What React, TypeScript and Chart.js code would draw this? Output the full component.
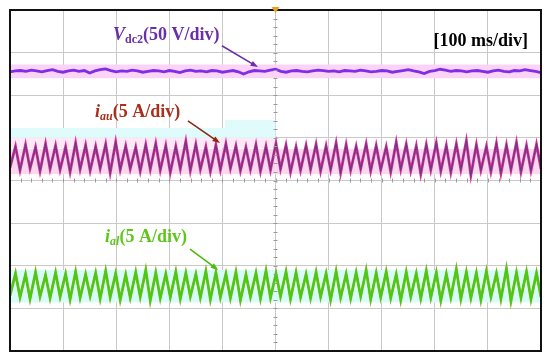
import { useEffect, useRef } from "react";
import { Chart, registerables } from "chart.js";

Chart.register(...registerables);

// Screen is 10 x 8 divisions; values are in division units (0 = bottom edge)
const X_DIVS = 10;
const Y_DIVS = 8;
const CYCLES = 53;

// Vdc2 trace, sampled every 0.1 div
const vdc2 = [
  6.55, 6.57, 6.58, 6.56, 6.59, 6.57, 6.55, 6.58, 6.6, 6.56,
  6.54, 6.57, 6.59, 6.56, 6.58, 6.52, 6.57, 6.6, 6.62, 6.58,
  6.55, 6.57, 6.56, 6.59, 6.57, 6.54, 6.56, 6.58, 6.57, 6.55,
  6.58, 6.56, 6.53, 6.57, 6.59, 6.56, 6.57, 6.55, 6.58, 6.57,
  6.54, 6.56, 6.58, 6.55, 6.5, 6.55, 6.58, 6.57, 6.56, 6.59,
  6.61, 6.56, 6.54, 6.57, 6.58, 6.56, 6.55, 6.57, 6.59, 6.58,
  6.56, 6.57, 6.55, 6.58, 6.57, 6.56, 6.59, 6.57, 6.55, 6.56,
  6.58, 6.57, 6.54, 6.56, 6.58, 6.6, 6.57, 6.55, 6.51, 6.56,
  6.58, 6.61, 6.59, 6.56, 6.58, 6.57, 6.55, 6.57, 6.58, 6.56,
  6.54, 6.57, 6.59, 6.56, 6.55, 6.58, 6.57, 6.6, 6.58, 6.56,
  6.53,
];

const iauPeaks = [
  4.8, 4.84, 4.78, 4.86, 4.82, 4.79, 4.88, 4.83, 4.8, 4.85,
  4.9, 4.81, 4.78, 4.84, 4.87, 4.82, 4.8, 4.92, 4.85, 4.79,
  4.83, 4.86, 4.81, 4.78, 4.84, 4.8, 4.87, 4.83, 4.79, 4.82,
  4.85, 4.81, 4.88, 4.84, 4.8, 4.86, 4.82, 4.79, 4.9, 4.85,
  4.81, 4.84, 4.88, 4.82, 4.86, 4.93, 4.84, 4.8, 4.87, 4.83,
  4.89, 4.82, 4.85,
];
const iauValleys = [
  4.3, 4.24, 4.28, 4.22, 4.27, 4.25, 4.2, 4.26, 4.23, 4.28,
  4.18, 4.25, 4.27, 4.22, 4.26, 4.24, 4.19, 4.27, 4.23, 4.26,
  4.21, 4.25, 4.28, 4.23, 4.26, 4.22, 4.25, 4.27, 4.2, 4.24,
  4.26, 4.22, 4.25, 4.18, 4.24, 4.27, 4.22, 4.25, 4.2, 4.26,
  4.23, 4.15, 4.25, 4.22, 4.19, 4.26, 4.12, 4.24, 4.21, 4.17,
  4.25, 4.2, 4.23, 4.27,
];

const ialPeaks = [
  1.82, 1.8, 1.85, 1.78, 1.84, 1.81, 1.86, 1.8, 1.83, 1.88,
  1.82, 1.79, 1.85, 1.9, 1.84, 1.81, 1.86, 1.83, 1.8, 1.87,
  1.84, 1.81, 1.85, 1.79, 1.83, 1.88, 1.82, 1.86, 1.84, 1.8,
  1.85, 1.82, 1.87, 1.81, 1.84, 1.9, 1.83, 1.86, 1.8, 1.85,
  1.82, 1.88, 1.84, 1.81, 1.92, 1.85, 1.83, 1.87, 1.82, 1.93,
  1.84, 1.86, 1.83,
];
const ialValleys = [
  1.3, 1.26, 1.22, 1.28, 1.24, 1.27, 1.21, 1.25, 1.29, 1.23,
  1.26, 1.2, 1.25, 1.27, 1.18, 1.24, 1.26, 1.22, 1.28, 1.25,
  1.21, 1.26, 1.24, 1.19, 1.27, 1.23, 1.25, 1.28, 1.22, 1.26,
  1.24, 1.27, 1.2, 1.25, 1.23, 1.28, 1.21, 1.26, 1.24, 1.19,
  1.27, 1.23, 1.25, 1.18, 1.26, 1.22, 1.24, 1.2, 1.27, 1.22,
  1.17, 1.25, 1.21, 1.26,
];

const TIME_LABEL = "[100 ms/div]";

function waveform(peaks: number[], valleys: number[]) {
  const period = X_DIVS / CYCLES;
  const pts: { x: number; y: number }[] = [];
  for (let k = 0; k < valleys.length; k++) {
    pts.push({ x: k * period, y: valleys[k] });
    if (k < peaks.length) pts.push({ x: k * period + 0.55 * period, y: peaks[k] });
  }
  return pts;
}

type Seg = { t: string; style?: string; size?: number; dy?: number };

function drawRich(ctx: CanvasRenderingContext2D, segs: Seg[], x: number, y: number, color: string) {
  ctx.save();
  ctx.fillStyle = color;
  ctx.textBaseline = "alphabetic";
  let cx = x;
  for (const s of segs) {
    ctx.font = `${s.style ?? ""} bold ${s.size ?? 18}px "Liberation Serif", "Times New Roman", serif`;
    ctx.fillText(s.t, cx, y + (s.dy ?? 0));
    cx += ctx.measureText(s.t).width;
  }
  ctx.restore();
}

function arrow(ctx: CanvasRenderingContext2D, x1: number, y1: number, x2: number, y2: number, color: string) {
  ctx.save();
  ctx.strokeStyle = color;
  ctx.fillStyle = color;
  ctx.lineWidth = 1.6;
  const a = Math.atan2(y2 - y1, x2 - x1);
  const hl = 8;
  ctx.beginPath();
  ctx.moveTo(x1, y1);
  ctx.lineTo(x2 - Math.cos(a) * hl * 0.8, y2 - Math.sin(a) * hl * 0.8);
  ctx.stroke();
  ctx.beginPath();
  ctx.moveTo(x2, y2);
  ctx.lineTo(x2 - hl * Math.cos(a - 0.35), y2 - hl * Math.sin(a - 0.35));
  ctx.lineTo(x2 - hl * Math.cos(a + 0.35), y2 - hl * Math.sin(a + 0.35));
  ctx.closePath();
  ctx.fill();
  ctx.restore();
}

const bandsPlugin = {
  id: "bands",
  beforeDatasetsDraw(chart: any) {
    const { ctx, scales } = chart;
    const xs = scales.x, ys = scales.y;
    const rect = (x0: number, x1: number, y0: number, y1: number, c: string) => {
      const px0 = xs.getPixelForValue(x0), px1 = xs.getPixelForValue(x1);
      const py0 = ys.getPixelForValue(y1), py1 = ys.getPixelForValue(y0);
      ctx.fillStyle = c;
      ctx.fillRect(px0, py0, px1 - px0, py1 - py0);
    };
    ctx.save();
    rect(0, 10, 6.4, 6.72, "#fbd3f7");
    rect(0, 10, 4.15, 4.74, "#fcd8ef");
    rect(0, 5, 4.76, 5.0, "#fde9f6");
    rect(0, 5, 5.0, 5.23, "#e0fbfb");
    rect(4.05, 5, 5.23, 5.42, "#e0fbfb");
    rect(0, 10, 1.14, 1.9, "#d6fdf8");
    ctx.restore();
  },
};

const decorPlugin = {
  id: "decor",
  afterDatasetsDraw(chart: any) {
    const { ctx, scales, chartArea } = chart;
    const xs = scales.x, ys = scales.y;
    const X = (v: number) => xs.getPixelForValue(v);
    const Y = (v: number) => ys.getPixelForValue(v);
    ctx.save();
    // centre axis minor ticks
    ctx.strokeStyle = "#9a9a9a";
    ctx.lineWidth = 1;
    ctx.beginPath();
    for (let i = 0; i <= X_DIVS * 5; i++) {
      const px = Math.round(X(i / 5)) + 0.5;
      ctx.moveTo(px, Y(4) - 2);
      ctx.lineTo(px, Y(4) + 2);
    }
    for (let i = 0; i <= Y_DIVS * 5; i++) {
      const py = Math.round(Y(i / 5)) + 0.5;
      ctx.moveTo(X(5) - 2, py);
      ctx.lineTo(X(5) + 2, py);
    }
    ctx.stroke();
    // frame
    ctx.strokeStyle = "#111";
    ctx.lineWidth = 2;
    ctx.strokeRect(chartArea.left, chartArea.top, chartArea.right - chartArea.left, chartArea.bottom - chartArea.top);
    // trigger marker
    ctx.fillStyle = "#e8a020";
    ctx.beginPath();
    ctx.moveTo(X(5) - 4, chartArea.top - 3);
    ctx.lineTo(X(5) + 4, chartArea.top - 3);
    ctx.lineTo(X(5), chartArea.top + 3);
    ctx.closePath();
    ctx.fill();
    ctx.restore();

    // labels
    drawRich(ctx, [
      { t: "V", style: "italic" },
      { t: "dc2", size: 12, dy: 3 },
      { t: "(50 V/div)" },
    ], X(1.94), Y(7.3), "#6a2fa6");
    arrow(ctx, X(3.99), Y(7.16), X(4.67), Y(6.66), "#6a2fa6");

    ctx.save();
    ctx.font = 'bold 18px "Liberation Serif", "Times New Roman", serif';
    ctx.fillStyle = "#000";
    ctx.textAlign = "right";
    ctx.fillText(TIME_LABEL, X(9.755), Y(7.16));
    ctx.restore();

    drawRich(ctx, [
      { t: "i", style: "italic" },
      { t: "au", style: "italic", size: 12, dy: 3 },
      { t: "(5 A/div)" },
    ], X(1.6), Y(5.49), "#a8301c");
    arrow(ctx, X(3.35), Y(5.4), X(3.955), Y(4.88), "#8b2a10");

    drawRich(ctx, [
      { t: "i", style: "italic" },
      { t: "al", style: "italic", size: 12, dy: 3 },
      { t: "(5 A/div)" },
    ], X(1.79), Y(2.56), "#5fc71c");
    arrow(ctx, X(3.39), Y(2.39), X(3.92), Y(1.9), "#4cba10");
  },
};

export default function App() {
  const ref = useRef<HTMLCanvasElement>(null);
  useEffect(() => {
    document.body.style.margin = "0";
    const canvas = ref.current!;
    const vdcPts = vdc2.map((v, i) => ({ x: i * 0.1, y: v }));
    const iauPts = waveform(iauPeaks, iauValleys);
    const ialPts = waveform(ialPeaks, ialValleys);
    const base = { pointRadius: 0, tension: 0, fill: false };
    // Chart.js paints the first dataset on top
    const chart = new Chart(canvas, {
      type: "line",
      data: {
        datasets: [
          { ...base, data: vdcPts, borderColor: "#7d2ee6", borderWidth: 2.8 },
          { ...base, data: iauPts, borderColor: "#6a3a84", borderWidth: 1.3 },
          { ...base, data: iauPts, borderColor: "#e0309a", borderWidth: 2.8 },
          { ...base, data: ialPts, borderColor: "#46cc0e", borderWidth: 1.9 },
          { ...base, data: ialPts, borderColor: "#8fb030", borderWidth: 2.8 },
        ],
      },
      options: {
        responsive: false,
        animation: false,
        events: [],
        layout: { padding: { left: 10, right: 9, top: 10, bottom: 11 } },
        plugins: { legend: { display: false }, tooltip: { enabled: false } },
        scales: {
          x: {
            type: "linear",
            min: 0,
            max: X_DIVS,
            ticks: { display: false, stepSize: 1 },
            grid: { color: "#c9c9c9", lineWidth: 1, drawTicks: false },
            border: { display: false },
          },
          y: {
            type: "linear",
            min: 0,
            max: Y_DIVS,
            ticks: { display: false, stepSize: 1 },
            grid: { color: "#c9c9c9", lineWidth: 1, drawTicks: false },
            border: { display: false },
          },
        },
      },
      plugins: [bandsPlugin, decorPlugin],
    });
    return () => chart.destroy();
  }, []);
  return (
    <div style={{ width: 550, height: 362 }}>
      <canvas ref={ref} width={550} height={362} style={{ display: "block" }} />
    </div>
  );
}
